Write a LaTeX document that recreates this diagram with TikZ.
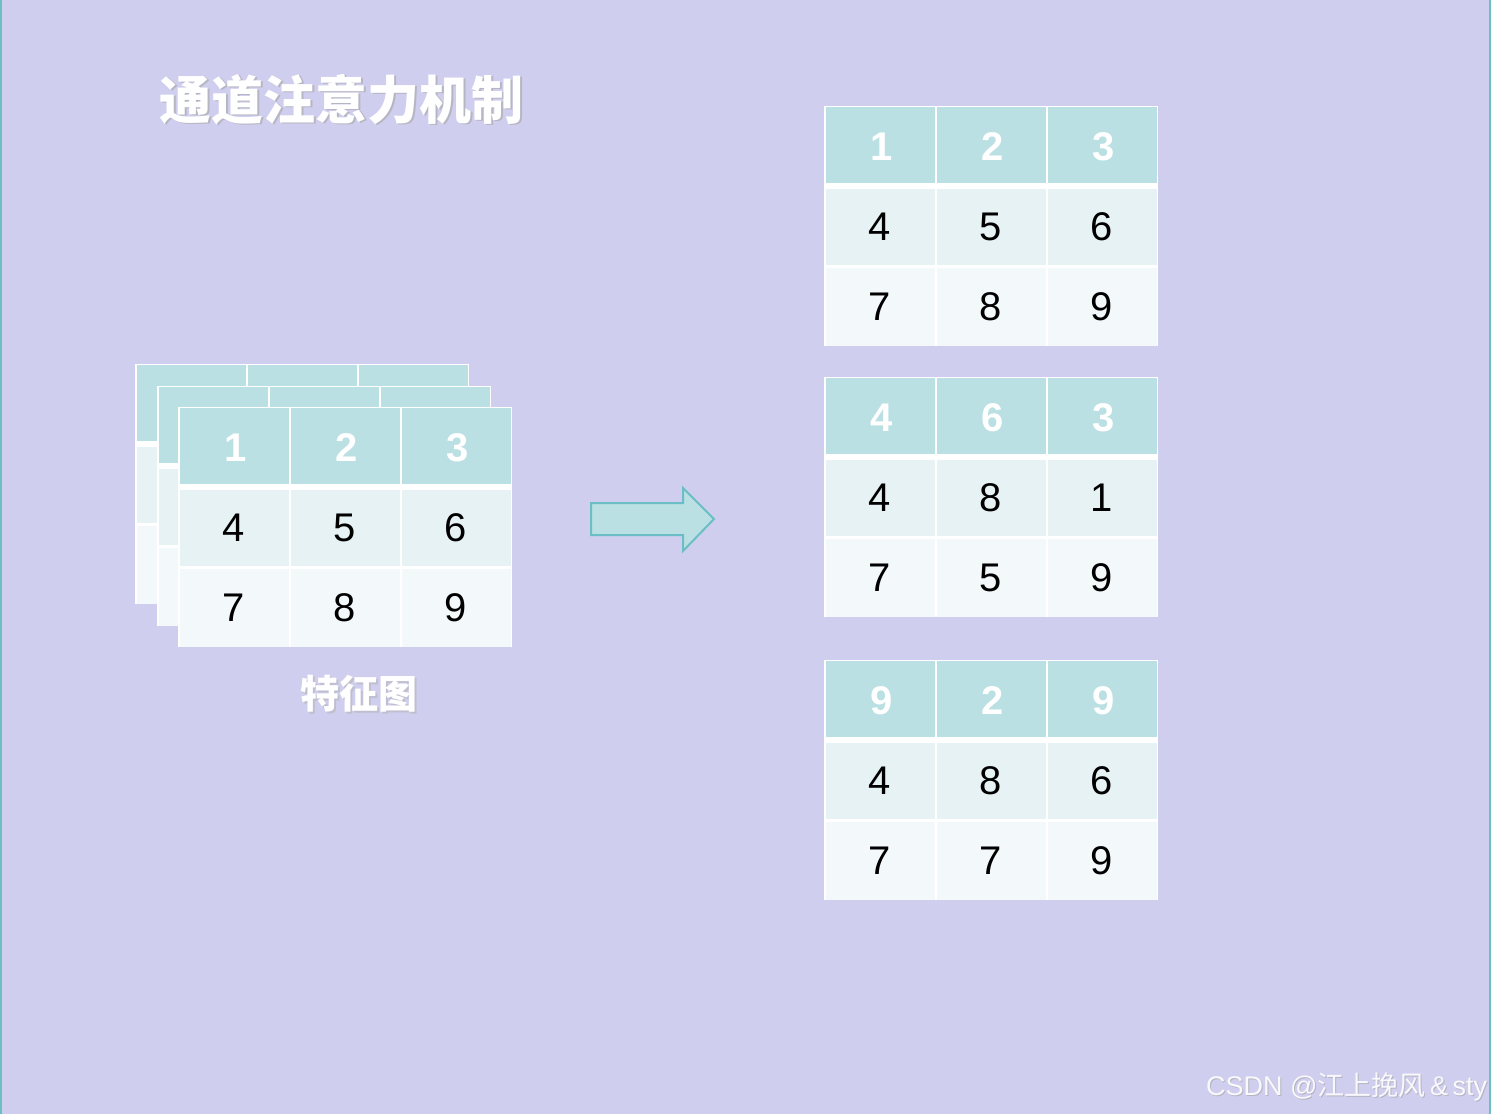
\documentclass[tikz,border=0pt]{standalone}
\usepackage{fontspec}
\setmainfont{Liberation Sans}
\newfontfamily\cjk{Noto Sans CJK SC}
\definecolor{bgc}{RGB}{207,206,238}
\definecolor{hdc}{RGB}{186,224,227}
\definecolor{r1c}{RGB}{231,242,244}
\definecolor{r2c}{RGB}{243,248,251}
\definecolor{tealc}{RGB}{108,190,198}
\tikzset{
  cellbase/.style={rectangle, inner sep=0pt, minimum width=54.5pt, font=\fontsize{20}{24}\selectfont},
  hcell/.style={cellbase, fill=hdc, minimum height=38pt},
  htext/.style={inner sep=0pt, text=white, font=\fontsize{20}{24}\selectfont\bfseries},
  rowa/.style={cellbase, fill=r1c, minimum height=38pt, text=black},
  rowb/.style={cellbase, fill=r2c, minimum height=39pt, text=black},
  bigarrow/.style={fill=hdc, draw=tealc, line width=1pt, line join=miter},
}
% #1 name, #2 x, #3 y, #4 header, #5 row 1, #6 row 2
\newcommand\gtab[6]{%
  \fill[white] (#2,#3) rectangle ++(334,240);
  \foreach \v [count=\i] in {#4} {%
    \node[hcell] (#1-h\i) at ({#2+56+(\i-1)*111},{#3+39}) {};
    \node[htext] (#1-ht\i) at ({#2+57.5+(\i-1)*111},{#3+41}) {\v};}
  \foreach \v [count=\i] in {#5} {\node[rowa] (#1-a\i) at ({#2+56+(\i-1)*111},{#3+121}) {\v};}
  \foreach \v [count=\i] in {#6} {\node[rowb] (#1-b\i) at ({#2+56+(\i-1)*111},{#3+200.5}) {\v};}
}
\begin{document}
\begin{tikzpicture}[x=0.5pt,y=-0.5pt]
\useasboundingbox (0,0) rectangle (1491,1114);
\fill[bgc] (0,0) rectangle (1491,1114);
\fill[tealc] (0,0) rectangle (2,1114);
\fill[tealc] (1489,0) rectangle (1491,1114);
% title
\node[anchor=west, text=gray!70, opacity=0.6, font=\cjk\bfseries\fontsize{26}{30}\selectfont, inner sep=0pt] (titlesh) at (161,101) {通道注意力机制};
\node[anchor=west, text=white, font=\cjk\bfseries\fontsize{26}{30}\selectfont, inner sep=0pt] (title) at (159.5,99.5) {通道注意力机制};
% stacked feature maps
\gtab{ba}{135}{364}{{},{},{}}{{},{},{}}{{},{},{}}
\gtab{bb}{157}{386}{{},{},{}}{{},{},{}}{{},{},{}}
\gtab{fm}{178}{407}{1,2,3}{4,5,6}{7,8,9}
\node[text=gray!60, opacity=0.5, font=\cjk\bfseries\fontsize{19.5}{23}\selectfont, inner sep=0pt] (capsh) at (360.5,695.5) {特征图};
\node[text=white, font=\cjk\bfseries\fontsize{19.5}{23}\selectfont, inner sep=0pt] (cap) at (359,694) {特征图};
% arrow
\draw[bigarrow] (591,503) -- (683,503) -- (683,488) -- (714,519) -- (683,551) -- (683,535) -- (591,535) -- cycle;
% right tables
\gtab{ta}{824}{106}{1,2,3}{4,5,6}{7,8,9}
\gtab{tb}{824}{377}{4,6,3}{4,8,1}{7,5,9}
\gtab{tc}{824}{660}{9,2,9}{4,8,6}{7,7,9}
% watermark
\node[anchor=east, text=gray!75, opacity=0.55, font=\fontsize{13.5}{16}\selectfont, inner sep=0pt] (wmsh) at (1488.5,1088) {CSDN @{\cjk 江上挽风}\,\&\,sty};
\node[anchor=east, text=white!88!bgc, font=\fontsize{13.5}{16}\selectfont, inner sep=0pt] (wm) at (1487.5,1087) {CSDN @{\cjk 江上挽风}\,\&\,sty};
\end{tikzpicture}
\end{document}
